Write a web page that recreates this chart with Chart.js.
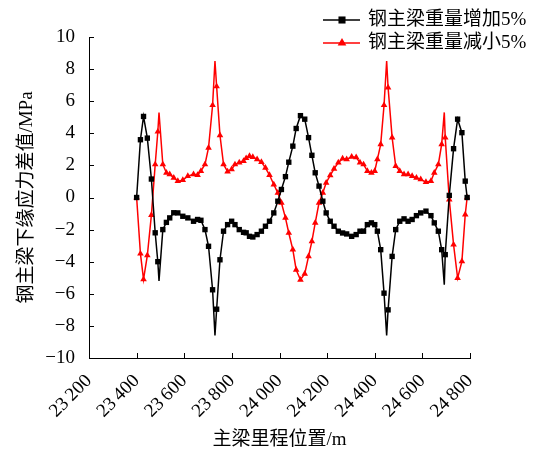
<!DOCTYPE html>
<html>
<head>
<meta charset="utf-8">
<script src="https://cdn.jsdelivr.net/npm/chart.js@4/dist/chart.umd.min.js"></script>
<style>
  html, body { margin: 0; padding: 0; background: #fff; }
  canvas { display: block; }
</style>
</head>
<body>
<canvas id="chart" width="553" height="452"></canvas>
<script>
// mileage along the main girder (m)
const positions = [
  23400, 23416, 23429, 23445, 23462, 23478, 23489, 23494, 23510, 23525,
  23539, 23556, 23573, 23594, 23615, 23639, 23656, 23670, 23687, 23702,
  23719, 23729, 23736, 23750, 23765, 23782, 23799, 23813, 23831, 23849,
  23860, 23874, 23888, 23906, 23924, 23941, 23958, 23976, 23993, 24008,
  24025, 24039, 24056, 24070, 24088, 24106, 24122, 24136, 24150, 24166,
  24182, 24196, 24213, 24229, 24247, 24265, 24282, 24303, 24322, 24338,
  24353, 24369, 24386, 24400, 24411, 24425, 24439, 24450, 24456, 24473,
  24488, 24505, 24523, 24540, 24557, 24575, 24593, 24615, 24636, 24650,
  24667, 24681, 24692, 24696, 24713, 24731, 24748, 24766, 24780, 24788
];

// stress difference (MPa), steel girder weight +5%
const increase5 = [
  0, 3.6, 5.05, 3.7, 1.15, -2.2, -4.0, -5.2, -2.0, -1.55,
  -1.27, -0.95, -0.96, -1.17, -1.27, -1.48, -1.37, -1.42, -2.0, -3.04,
  -5.75, -8.6, -6.96, -3.88, -2.1, -1.69, -1.48, -1.69, -2.0, -2.17,
  -2.2, -2.42, -2.46, -2.31, -2.1, -1.79, -1.48, -0.96, -0.23, 0.5,
  1.3, 2.2, 3.2, 4.3, 5.1, 4.88, 3.73, 2.63, 1.54, 0.71,
  -0.23, -0.96, -1.48, -1.79, -2.1, -2.21, -2.27, -2.42, -2.31, -2.1,
  -2.1, -1.69, -1.58, -1.69, -2.1, -3.25, -5.96, -8.6, -7.0, -3.67,
  -2.0, -1.48, -1.33, -1.48, -1.37, -1.13, -0.96, -0.85, -1.13, -1.58,
  -2.1, -3.25, -5.44, -3.56, 0.13, 3.04, 4.88, 4.04, 1.02, 0
];

// stress difference (MPa), steel girder weight -5%
const decrease5 = [
  0, -3.5, -5.1, -3.6, -1.1, 2.06, 4.1, 5.3, 2.06, 1.54,
  1.44, 1.23, 1.02, 1.08, 1.33, 1.44, 1.4, 1.65, 2.06, 3.1,
  5.75, 8.5, 6.92, 3.88, 2.06, 1.62, 1.75, 2.06, 2.17, 2.27,
  2.45, 2.58, 2.52, 2.38, 2.21, 1.85, 1.4, 0.81, 0.29, -0.33,
  -1.27, -2.21, -3.25, -4.5, -5.13, -4.75, -3.67, -2.73, -1.58, -0.33,
  0.29, 0.92, 1.38, 1.79, 2.17, 2.42, 2.38, 2.54, 2.5, 2.17,
  2.06, 1.65, 1.54, 1.65, 2.38, 3.31, 5.75, 8.5, 6.85, 3.73,
  1.96, 1.65, 1.44, 1.44, 1.33, 1.23, 1.13, 0.96, 1.02, 1.54,
  2.06, 3.31, 5.3, 3.73, -0.13, -2.94, -5.02, -3.98, -1.06, 0
];

// peaks drawn as plain line corners, without a marker
const unmarked = [23494, 23729, 24450, 24692];

const seriesNames = ['钢主梁重量增加5%', '钢主梁重量减小5%'];
const xTicks = [23200, 23400, 23600, 23800, 24000, 24200, 24400, 24600, 24800];
const yTicks = [-10, -8, -6, -4, -2, 0, 2, 4, 6, 8, 10];

const FONT = "'Liberation Serif', 'Noto Sans CJK SC', serif";

function toPoints(values) {
    return positions.map((x, i) => ({ x: x, y: values[i] }));
}

function markerRadius(ctx) {
    const raw = ctx.raw;
    if (raw && unmarked.indexOf(raw.x) >= 0) {
        return 0;
    }
    return 3.8;
}

function fmtMileage(v) {
    const k = Math.floor(v / 1000);
    const r = String(v % 1000).padStart(3, '0');
    return k + '\u2009' + r;
}

function drawMarker(ctx, style, x, y, r, color) {
    ctx.fillStyle = color;
    ctx.beginPath();
    if (style === 'rect') {
        const s = r * Math.SQRT1_2;
        ctx.rect(x - s, y - s, 2 * s, 2 * s);
    } else {
        ctx.moveTo(x, y - r);
        ctx.lineTo(x + r * 0.866, y + r * 0.5);
        ctx.lineTo(x - r * 0.866, y + r * 0.5);
        ctx.closePath();
    }
    ctx.fill();
}

// ticks pointing into the plot, like the original figure
const inwardTicks = {
    id: 'inwardTicks',
    afterDraw(chart) {
        const { ctx, chartArea, scales } = chart;
        ctx.save();
        ctx.strokeStyle = '#000';
        ctx.lineWidth = 1;
        ctx.beginPath();
        scales.y.ticks.forEach(t => {
            const y = Math.round(scales.y.getPixelForValue(t.value)) + 0.5;
            ctx.moveTo(chartArea.left, y);
            ctx.lineTo(chartArea.left + 5, y);
        });
        scales.x.ticks.forEach(t => {
            const x = Math.round(scales.x.getPixelForValue(t.value)) + 0.5;
            ctx.moveTo(x, chartArea.bottom);
            ctx.lineTo(x, chartArea.bottom - 5);
        });
        ctx.stroke();
        ctx.restore();
    }
};

const cornerLegend = {
    id: 'cornerLegend',
    afterDraw(chart) {
        const ctx = chart.ctx;
        ctx.save();
        chart.data.datasets.forEach((ds, i) => {
            const y = 20 + i * 23;
            ctx.strokeStyle = ds.borderColor;
            ctx.lineWidth = ds.borderWidth;
            ctx.beginPath();
            ctx.moveTo(323, y);
            ctx.lineTo(360, y);
            ctx.stroke();
            drawMarker(ctx, ds.pointStyle, 342, y, 5, ds.borderColor);
            ctx.fillStyle = '#000';
            ctx.font = '19px ' + FONT;
            ctx.textBaseline = 'middle';
            ctx.fillText(ds.label, 368, y);
        });
        ctx.restore();
    }
};

new Chart(document.getElementById('chart'), {
    type: 'line',
    data: {
        datasets: [
            {
                label: seriesNames[0],
                data: toPoints(increase5),
                borderColor: '#000000',
                backgroundColor: '#000000',
                borderWidth: 1.5,
                pointStyle: 'rect',
                pointRadius: markerRadius,
                pointBorderWidth: 0,
                tension: 0
            },
            {
                label: seriesNames[1],
                data: toPoints(decrease5),
                borderColor: '#ff0000',
                backgroundColor: '#ff0000',
                borderWidth: 1.5,
                pointStyle: 'triangle',
                pointRadius: markerRadius,
                pointBorderWidth: 0,
                tension: 0
            }
        ]
    },
    options: {
        responsive: false,
        animation: false,
        events: [],
        layout: { padding: { left: 0, top: 37, right: 83, bottom: 0 } },
        plugins: {
            legend: { display: false },
            tooltip: { enabled: false }
        },
        scales: {
            x: {
                type: 'linear',
                min: 23200,
                max: 24800,
                afterBuildTicks: s => { s.ticks = xTicks.map(v => ({ value: v })); },
                afterFit: s => { s.height = 94; },
                grid: { display: false },
                border: { display: true, color: '#000', width: 1 },
                ticks: {
                    minRotation: 45,
                    maxRotation: 45,
                    padding: 4,
                    color: '#000',
                    font: { family: FONT, size: 19 },
                    callback: v => fmtMileage(v)
                },
                title: {
                    display: true,
                    text: '主梁里程位置/m',
                    color: '#000',
                    font: { family: FONT, size: 19 },
                    padding: { top: 0, bottom: 1 }
                }
            },
            y: {
                min: -10,
                max: 10,
                afterBuildTicks: s => { s.ticks = yTicks.map(v => ({ value: v })); },
                afterFit: s => { s.width = 89; },
                grid: { display: false },
                border: { display: true, color: '#000', width: 1 },
                ticks: {
                    padding: 6,
                    color: '#000',
                    font: { family: FONT, size: 19 },
                    callback: v => (v < 0 ? '\u2212' + Math.abs(v) : String(v))
                },
                title: {
                    display: true,
                    text: '钢主梁下缘应力差值/MPa',
                    color: '#000',
                    font: { family: FONT, size: 19 },
                    padding: { top: 16, bottom: 0 }
                }
            }
        }
    },
    plugins: [inwardTicks, cornerLegend]
});
</script>
</body>
</html>
